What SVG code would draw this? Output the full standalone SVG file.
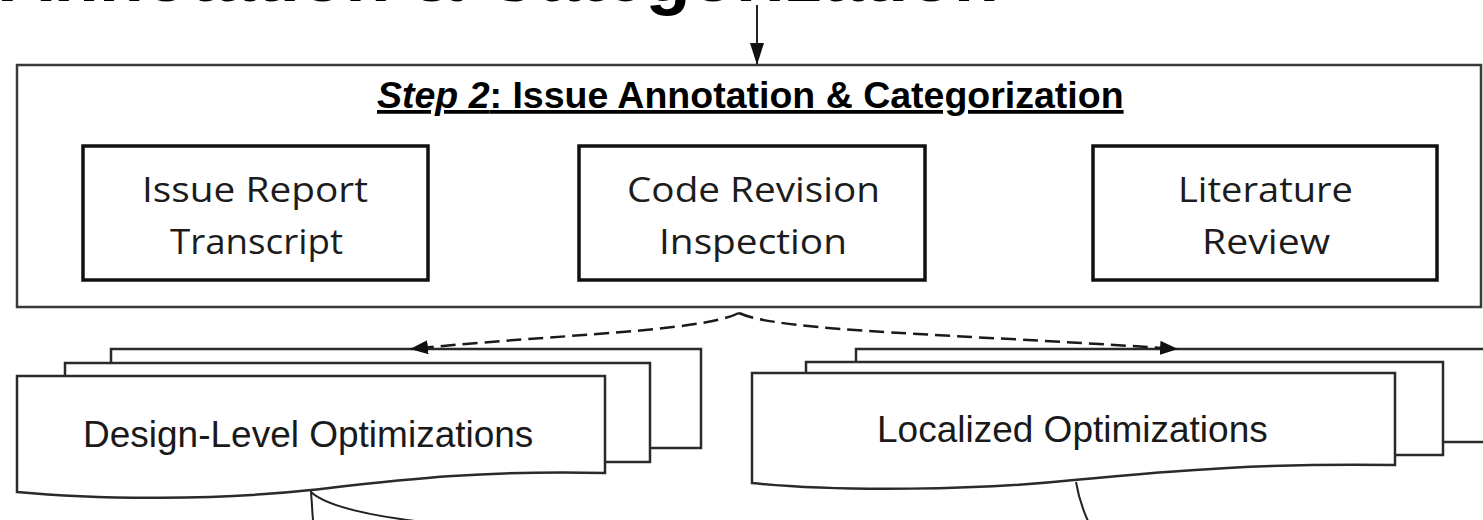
<svg xmlns="http://www.w3.org/2000/svg" width="1483" height="520" viewBox="0 0 1483 520">
<style>
.title{font-family:"Liberation Sans",Arial,sans-serif;font-weight:bold;fill:#000}
.outer{fill:#fff;stroke:#3a3a3a;stroke-width:2.5}
.box{fill:#fff;stroke:#111;stroke-width:3.5}
.lbl{font-family:"Open Sans","Noto Sans",sans-serif;font-size:35px;fill:#1c1c1c;text-anchor:middle}
.doc{fill:#fff;stroke:#2a2a2a;stroke-width:2.5}
.dlbl{font-family:"Liberation Sans",Arial,sans-serif;font-size:37px;fill:#1a1a1a}
.solid{fill:none;stroke:#222;stroke-width:2}
.dash{fill:none;stroke:#1a1a1a;stroke-width:2.5;stroke-dasharray:15 7}
</style>
<defs>
<marker id="ah" viewBox="0 0 22 14" refX="21" refY="7" markerWidth="22" markerHeight="14" markerUnits="userSpaceOnUse" orient="auto">
<path d="M0,0 L22,7 L0,14 Z" fill="#111"/>
</marker>
<marker id="ah2" viewBox="0 0 18 14" refX="17" refY="7" markerWidth="18" markerHeight="14" markerUnits="userSpaceOnUse" orient="auto">
<path d="M0,0 L18,7 L0,14 Z" fill="#111"/>
</marker>
</defs>
<rect width="1483" height="520" fill="#fff"/>
<text class="title" x="0" y="1" font-size="74">Annotation &amp; Categorization</text>

<g id="step2">
<rect class="outer" x="17" y="65" width="1464" height="242"/>
<text class="title" x="377" y="108" font-size="37.5" text-decoration="underline"><tspan font-style="italic">Step 2</tspan>: Issue Annotation &amp; Categorization</text>
</g>
<g id="issue-report">
<rect class="box" x="83" y="146" width="345" height="134"/>
<text class="lbl" x="255" y="202" textLength="226" lengthAdjust="spacingAndGlyphs">Issue Report</text>
<text class="lbl" x="256.5" y="254" textLength="173" lengthAdjust="spacingAndGlyphs">Transcript</text>
</g>
<g id="code-revision">
<rect class="box" x="579" y="146" width="346" height="134"/>
<text class="lbl" x="753.5" y="202" textLength="253" lengthAdjust="spacingAndGlyphs">Code Revision</text>
<text class="lbl" x="753" y="254" textLength="188" lengthAdjust="spacingAndGlyphs">Inspection</text>
</g>
<g id="literature">
<rect class="box" x="1093" y="146" width="344" height="134"/>
<text class="lbl" x="1265.5" y="202" textLength="175" lengthAdjust="spacingAndGlyphs">Literature</text>
<text class="lbl" x="1266" y="254" textLength="128" lengthAdjust="spacingAndGlyphs">Review</text>
</g>

<g id="design-level">
<rect class="doc" x="111" y="349" width="590" height="99"/>
<rect class="doc" x="65" y="363" width="585" height="99"/>
<path class="doc" d="M17,376 H605 V473 C 480,470 400,480 311,490 C 220,500 100,500 17,492 Z"/>
<text class="dlbl" x="83" y="447">Design-Level Optimizations</text>
</g>
<g id="localized">
<rect class="doc" x="856" y="349" width="640" height="93"/>
<rect class="doc" x="806" y="362" width="637" height="93"/>
<path class="doc" d="M752,373 H1395 V465 C 1270,463 1180,470 1074,480 C 980,490 840,492 752,483 Z"/>
<text class="dlbl" x="877" y="442">Localized Optimizations</text>
</g>

<g id="connectors">
<line class="solid" x1="757" y1="5" x2="757" y2="64" marker-end="url(#ah)"/>
<path class="dash" d="M739,313 C 700,332 560,334 411,349" marker-end="url(#ah2)"/>
<path class="dash" d="M739,313 C 780,332 960,334 1177,349" marker-end="url(#ah2)"/>
<path class="solid" d="M311,491 L313,521"/>
<path class="solid" d="M311,492 C 325,505 360,514 415,521"/>
<path class="solid" d="M1076,482 C 1079,500 1083,510 1088,521"/>
</g>
</svg>
